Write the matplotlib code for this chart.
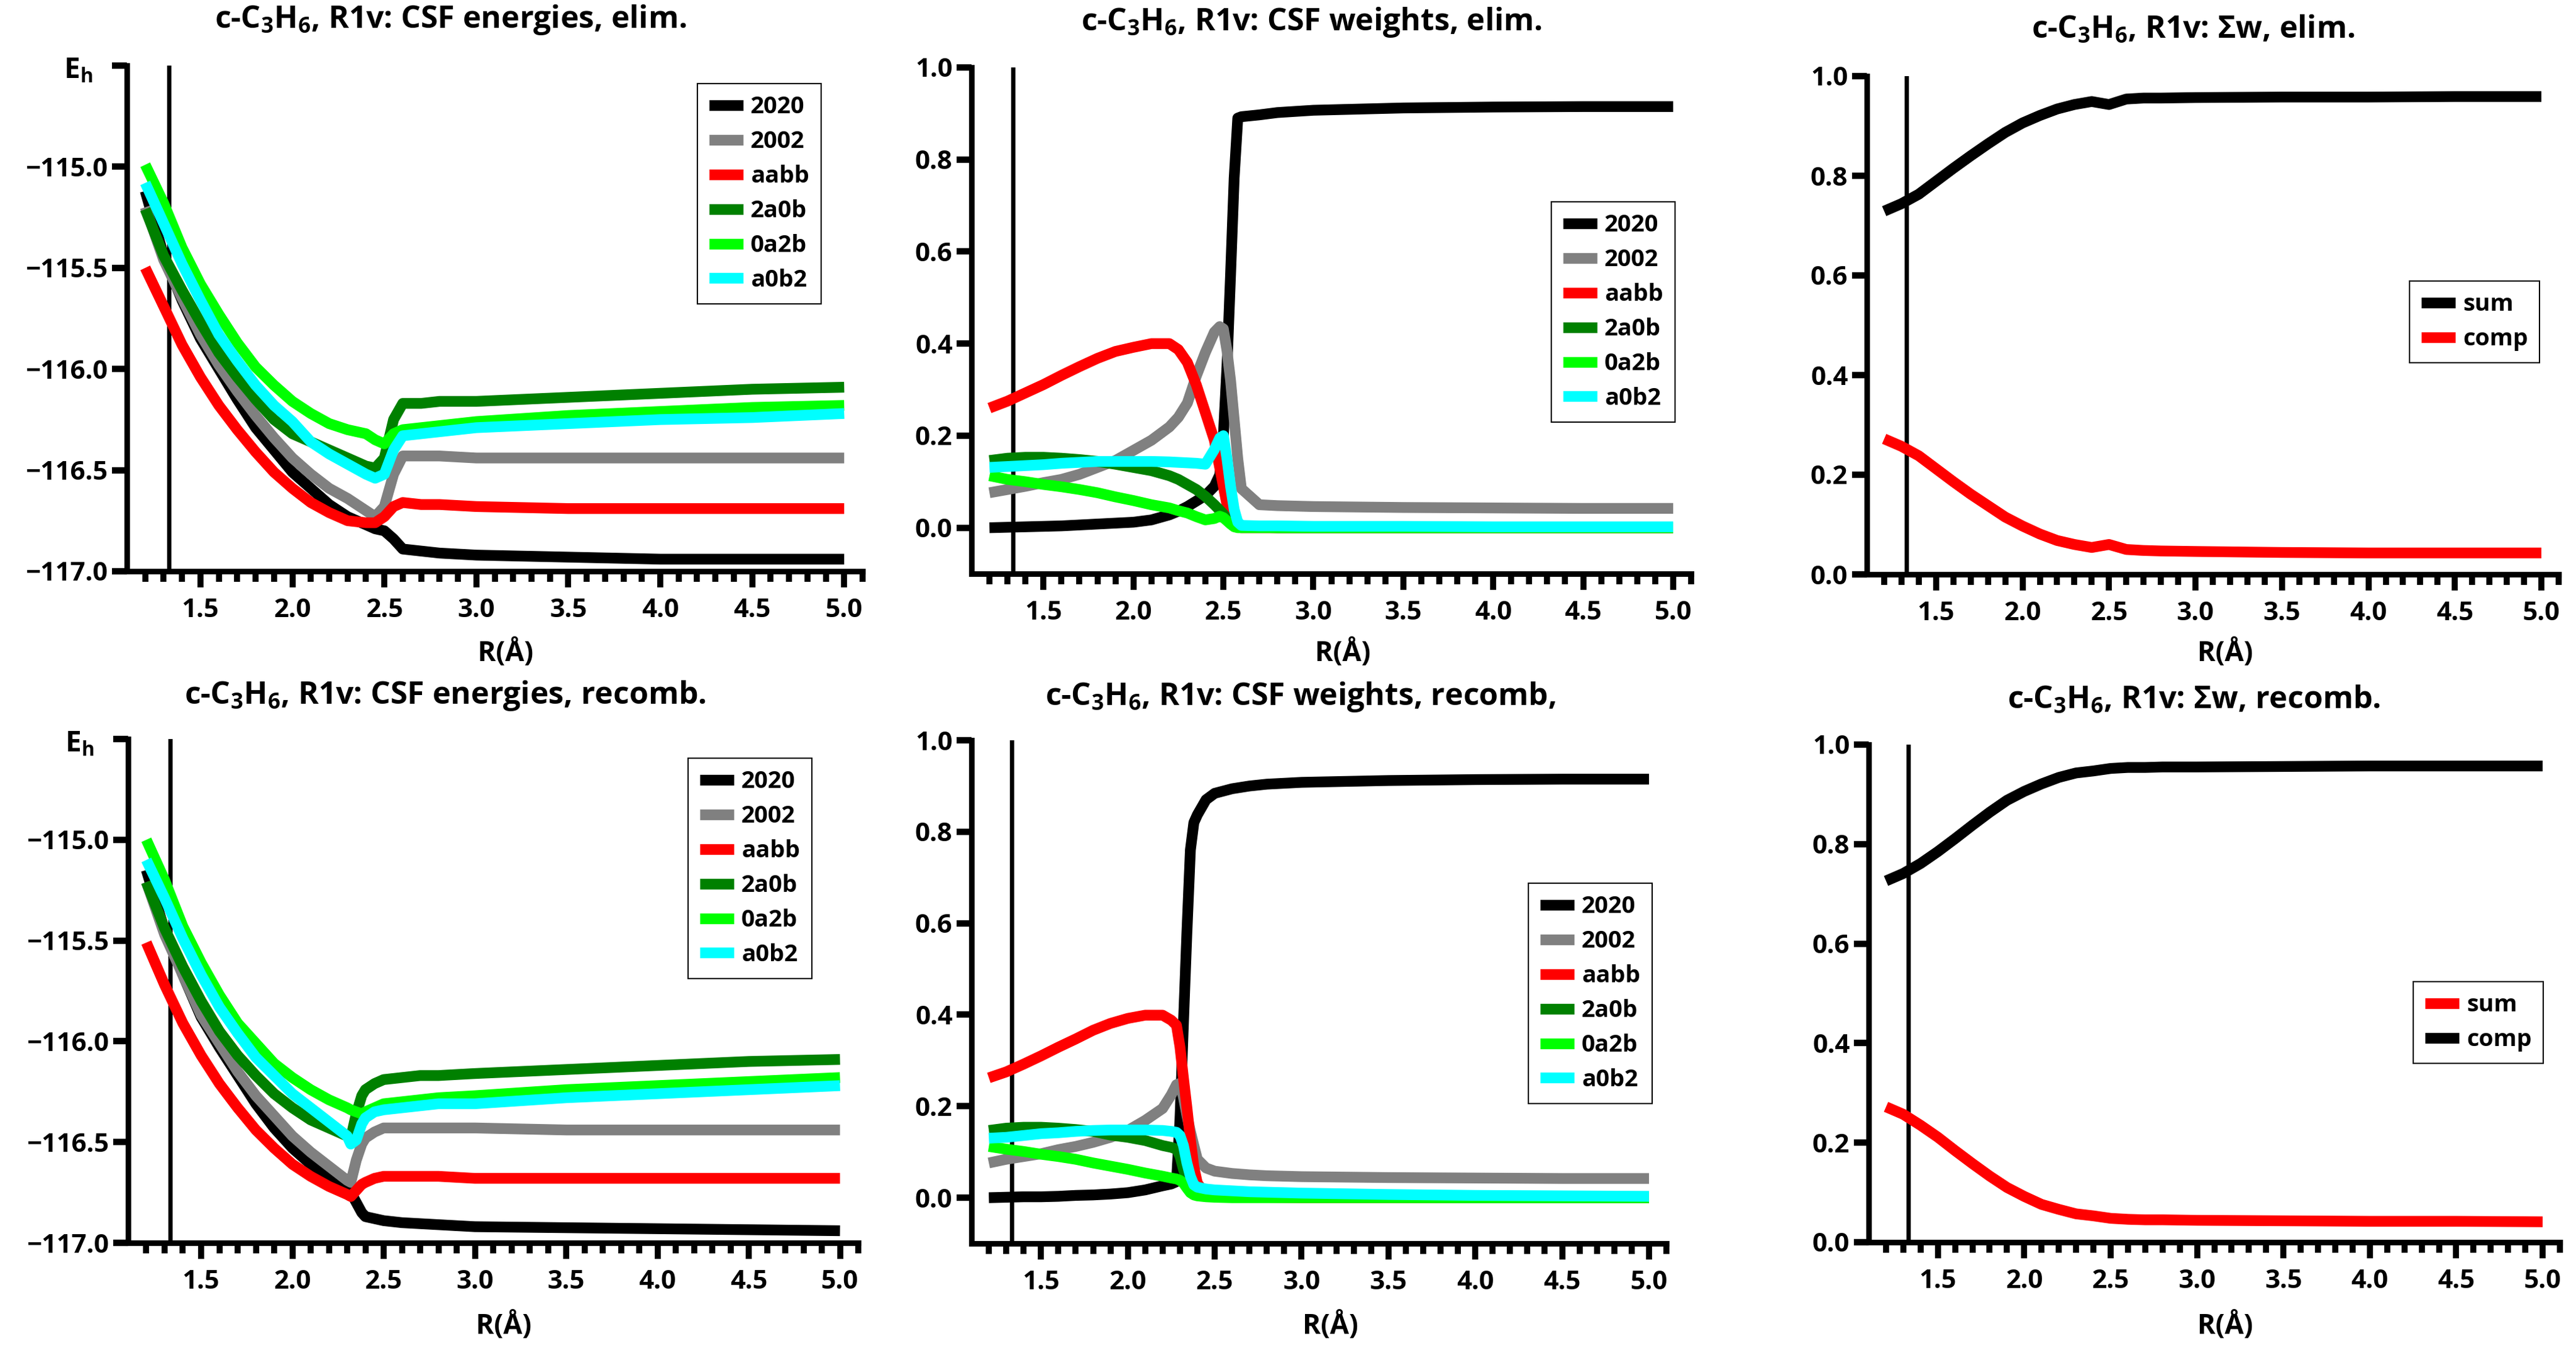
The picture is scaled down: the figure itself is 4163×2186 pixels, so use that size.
import matplotlib
matplotlib.use("Agg")
import matplotlib.pyplot as plt
from matplotlib.ticker import FixedLocator, FuncFormatter

plt.rcParams['font.family'] = ['Open Sans', 'DejaVu Sans']
plt.rcParams['font.weight'] = 'bold'
plt.rcParams['mathtext.fontset'] = 'custom'
plt.rcParams['mathtext.rm'] = 'Open Sans:bold'
plt.rcParams['mathtext.it'] = 'Open Sans:bold'
plt.rcParams['mathtext.bf'] = 'Open Sans:bold'
plt.rcParams['mathtext.default'] = 'rm'

# ---------------- data ----------------
r_ref = 1.33  # vertical reference line (Å)

series_names = ['2020', '2002', 'aabb', '2a0b', '0a2b', 'a0b2']
series_colors = ['#000000', '#808080', '#ff0000', '#008000', '#00ff00', '#00ffff']

# Panel 1: CSF energies, elimination
e_elim_x = [1.2, 1.3, 1.4, 1.5, 1.6, 1.7, 1.8, 1.9, 2.0, 2.1, 2.2, 2.3, 2.4, 2.45,
            2.5, 2.55, 2.6, 2.7, 2.8, 3.0, 3.5, 4.0, 4.5, 5.0]
e_elim_2020 = [-115.12, -115.44, -115.66, -115.85, -116.00, -116.15, -116.29, -116.40,
               -116.51, -116.59, -116.67, -116.73, -116.77, -116.79, -116.80, -116.84,
               -116.89, -116.90, -116.91, -116.92, -116.93, -116.94, -116.94, -116.94]
e_elim_2002 = [-115.20, -115.46, -115.65, -115.83, -115.98, -116.11, -116.23, -116.34,
               -116.44, -116.52, -116.59, -116.64, -116.70, -116.73, -116.68, -116.52,
               -116.43, -116.43, -116.43, -116.44, -116.44, -116.44, -116.44, -116.44]
e_elim_aabb = [-115.50, -115.69, -115.88, -116.04, -116.18, -116.30, -116.41, -116.51,
               -116.59, -116.66, -116.71, -116.75, -116.76, -116.76, -116.73, -116.68,
               -116.66, -116.67, -116.67, -116.68, -116.69, -116.69, -116.69, -116.69]
e_elim_2a0b = [-115.21, -115.44, -115.61, -115.77, -115.92, -116.04, -116.15, -116.25,
               -116.32, -116.36, -116.40, -116.44, -116.48, -116.49, -116.44, -116.25,
               -116.17, -116.17, -116.16, -116.16, -116.14, -116.12, -116.10, -116.09]
e_elim_0a2b = [-114.99, -115.18, -115.40, -115.58, -115.73, -115.87, -115.99, -116.08,
               -116.16, -116.22, -116.27, -116.30, -116.32, -116.35, -116.37, -116.32,
               -116.30, -116.29, -116.28, -116.26, -116.23, -116.21, -116.19, -116.18]
e_elim_a0b2 = [-115.08, -115.28, -115.48, -115.66, -115.83, -115.96, -116.08, -116.18,
               -116.26, -116.36, -116.42, -116.47, -116.52, -116.54, -116.52, -116.40,
               -116.33, -116.32, -116.31, -116.29, -116.27, -116.25, -116.24, -116.22]

# Panel 2: CSF weights, elimination
w_elim_x = [1.2, 1.3, 1.4, 1.5, 1.6, 1.7, 1.8, 1.9, 2.0, 2.1, 2.2, 2.25, 2.3, 2.35,
            2.4, 2.45, 2.48, 2.5, 2.52, 2.54, 2.56, 2.58, 2.6, 2.7, 2.8, 3.0, 3.5,
            4.0, 4.5, 5.0]
w_elim_2020 = [0.0, 0.001, 0.002, 0.003, 0.004, 0.006, 0.008, 0.01, 0.012, 0.017, 0.028,
               0.036, 0.046, 0.058, 0.07, 0.09, 0.115, 0.2, 0.35, 0.55, 0.76, 0.89,
               0.893, 0.897, 0.902, 0.907, 0.912, 0.914, 0.915, 0.915]
w_elim_2002 = [0.076, 0.083, 0.09, 0.098, 0.105, 0.116, 0.131, 0.146, 0.168, 0.19, 0.219,
               0.24, 0.271, 0.33, 0.381, 0.425, 0.437, 0.432, 0.385, 0.32, 0.235, 0.15,
               0.085, 0.05, 0.048, 0.046, 0.044, 0.043, 0.042, 0.042]
w_elim_aabb = [0.26, 0.275, 0.293, 0.311, 0.331, 0.35, 0.368, 0.383, 0.392, 0.40, 0.40,
               0.387, 0.359, 0.31, 0.25, 0.19, 0.13, 0.09, 0.05, 0.015, 0.003, 0.001,
               0.0, 0.0, 0.0, 0.0, 0.0, 0.0, 0.0, 0.0]
w_elim_2a0b = [0.146, 0.151, 0.153, 0.153, 0.151, 0.148, 0.144, 0.138, 0.131, 0.124, 0.113,
               0.105, 0.094, 0.083, 0.068, 0.05, 0.038, 0.03, 0.02, 0.01, 0.004, 0.002,
               0.001, 0.001, 0.0, 0.0, 0.0, 0.0, 0.0, 0.0]
w_elim_0a2b = [0.113, 0.105, 0.10, 0.094, 0.089, 0.083, 0.076, 0.067, 0.059, 0.05, 0.043,
               0.037, 0.032, 0.024, 0.017, 0.02, 0.025, 0.022, 0.015, 0.008, 0.002, 0.0,
               0.0, 0.0, 0.0, 0.0, 0.0, 0.0, 0.0, 0.0]
w_elim_a0b2 = [0.131, 0.133, 0.135, 0.137, 0.14, 0.142, 0.144, 0.144, 0.144, 0.144, 0.143,
               0.142, 0.141, 0.14, 0.138, 0.17, 0.195, 0.2, 0.15, 0.09, 0.04, 0.012,
               0.005, 0.004, 0.004, 0.003, 0.003, 0.002, 0.002, 0.002]

# Panel 3: sum of weights, elimination
s_x = [1.2, 1.3, 1.4, 1.5, 1.6, 1.7, 1.8, 1.9, 2.0, 2.1, 2.2, 2.3, 2.4, 2.5, 2.6,
       2.7, 2.8, 3.0, 3.5, 4.0, 4.5, 5.0]
s_elim_sum = [0.729, 0.744, 0.763, 0.789, 0.815, 0.840, 0.864, 0.887, 0.906, 0.921, 0.934,
              0.943, 0.949, 0.943, 0.954, 0.956, 0.956, 0.957, 0.958, 0.958, 0.959, 0.959]
s_elim_comp = [0.272, 0.257, 0.238, 0.212, 0.186, 0.161, 0.138, 0.115, 0.097, 0.081, 0.068,
               0.060, 0.054, 0.060, 0.050, 0.048, 0.047, 0.046, 0.044, 0.043, 0.043, 0.043]

# Panel 4: CSF energies, recombination
e_rec_x = [1.2, 1.3, 1.4, 1.5, 1.6, 1.7, 1.8, 1.9, 2.0, 2.1, 2.2, 2.3, 2.32, 2.35,
           2.38, 2.4, 2.45, 2.5, 2.6, 2.7, 2.8, 3.0, 3.5, 4.0, 4.5, 5.0]
e_rec_2020 = [-115.15, -115.45, -115.67, -115.88, -116.03, -116.17, -116.31, -116.43,
              -116.53, -116.61, -116.68, -116.73, -116.75, -116.80, -116.85, -116.87,
              -116.88, -116.89, -116.90, -116.905, -116.91, -116.92, -116.925, -116.93,
              -116.935, -116.94]
e_rec_2002 = [-115.21, -115.47, -115.67, -115.87, -116.01, -116.15, -116.27, -116.37,
              -116.47, -116.55, -116.62, -116.69, -116.70, -116.59, -116.51, -116.48,
              -116.45, -116.43, -116.43, -116.43, -116.43, -116.43, -116.44, -116.44,
              -116.44, -116.44]
e_rec_aabb = [-115.51, -115.72, -115.91, -116.07, -116.21, -116.33, -116.44, -116.53,
              -116.61, -116.67, -116.72, -116.76, -116.77, -116.74, -116.71, -116.70,
              -116.68, -116.67, -116.67, -116.67, -116.67, -116.68, -116.68, -116.68,
              -116.68, -116.68]
e_rec_2a0b = [-115.21, -115.44, -115.63, -115.80, -115.95, -116.07, -116.17, -116.26,
              -116.33, -116.39, -116.43, -116.47, -116.48, -116.36, -116.27, -116.24,
              -116.21, -116.19, -116.18, -116.17, -116.17, -116.16, -116.14, -116.12,
              -116.10, -116.09]
e_rec_0a2b = [-115.00, -115.20, -115.43, -115.61, -115.77, -115.91, -116.01, -116.11,
              -116.18, -116.24, -116.29, -116.33, -116.34, -116.35, -116.36, -116.35,
              -116.33, -116.31, -116.30, -116.29, -116.28, -116.27, -116.24, -116.22,
              -116.20, -116.18]
e_rec_a0b2 = [-115.10, -115.29, -115.49, -115.67, -115.83, -115.96, -116.08, -116.17,
              -116.26, -116.33, -116.40, -116.47, -116.51, -116.49, -116.41, -116.38,
              -116.35, -116.34, -116.33, -116.32, -116.31, -116.31, -116.28, -116.26,
              -116.24, -116.22]

# Panel 5: CSF weights, recombination
w_rec_x = [1.2, 1.3, 1.4, 1.5, 1.6, 1.7, 1.8, 1.9, 2.0, 2.1, 2.2, 2.25, 2.28, 2.3,
           2.32, 2.34, 2.36, 2.38, 2.4, 2.45, 2.5, 2.6, 2.7, 2.8, 3.0, 3.5, 4.0, 4.5, 5.0]
w_rec_2020 = [0.0, 0.001, 0.002, 0.002, 0.003, 0.005, 0.006, 0.008, 0.011, 0.017, 0.026,
              0.03, 0.035, 0.17, 0.38, 0.58, 0.76, 0.82, 0.837, 0.87, 0.884, 0.894,
              0.90, 0.904, 0.908, 0.912, 0.914, 0.915, 0.915]
w_rec_2002 = [0.076, 0.084, 0.09, 0.096, 0.105, 0.112, 0.121, 0.132, 0.147, 0.169, 0.195,
              0.225, 0.247, 0.25, 0.22, 0.18, 0.145, 0.114, 0.084, 0.065, 0.058, 0.053,
              0.05, 0.048, 0.046, 0.044, 0.043, 0.042, 0.042]
w_rec_aabb = [0.262, 0.275, 0.292, 0.31, 0.329, 0.347, 0.366, 0.381, 0.392, 0.399, 0.399,
              0.388, 0.377, 0.33, 0.262, 0.197, 0.127, 0.067, 0.032, 0.006, 0.003, 0.002,
              0.001, 0.001, 0.0, 0.0, 0.0, 0.0, 0.0]
w_rec_2a0b = [0.147, 0.152, 0.154, 0.154, 0.152, 0.149, 0.145, 0.137, 0.132, 0.125, 0.114,
              0.11, 0.106, 0.091, 0.062, 0.039, 0.021, 0.014, 0.01, 0.006, 0.004, 0.003,
              0.002, 0.002, 0.001, 0.001, 0.0, 0.0, 0.0]
w_rec_0a2b = [0.112, 0.106, 0.101, 0.095, 0.09, 0.084, 0.076, 0.069, 0.062, 0.054, 0.047,
              0.043, 0.041, 0.038, 0.032, 0.021, 0.011, 0.006, 0.004, 0.002, 0.001, 0.0,
              0.0, 0.0, 0.0, 0.0, 0.0, 0.0, 0.0]
w_rec_a0b2 = [0.13, 0.132, 0.136, 0.14, 0.142, 0.145, 0.147, 0.148, 0.148, 0.148, 0.147,
              0.145, 0.143, 0.136, 0.114, 0.076, 0.047, 0.028, 0.023, 0.019, 0.017, 0.015,
              0.013, 0.012, 0.01, 0.007, 0.005, 0.004, 0.003]

# Panel 6: sum of weights, recombination (legend labels as in source)
s_rec_sum = [0.272, 0.257, 0.235, 0.211, 0.184, 0.158, 0.133, 0.110, 0.092, 0.076, 0.066,
             0.057, 0.053, 0.048, 0.046, 0.045, 0.045, 0.044, 0.043, 0.042, 0.042, 0.041]
s_rec_comp = [0.726, 0.741, 0.761, 0.785, 0.811, 0.838, 0.864, 0.888, 0.906, 0.921, 0.934,
              0.943, 0.947, 0.952, 0.954, 0.954, 0.955, 0.955, 0.956, 0.957, 0.957, 0.957]

x_major = [1.5, 2.0, 2.5, 3.0, 3.5, 4.0, 4.5, 5.0]
e_ticks = [-117.0, -116.5, -116.0, -115.5, -115.0, -114.5]
w_ticks = [0.0, 0.2, 0.4, 0.6, 0.8, 1.0]

titles = [r'c-C$_3$H$_6$, R1v: CSF energies, elim.',
          r'c-C$_3$H$_6$, R1v: CSF weights, elim.',
          r'c-C$_3$H$_6$, R1v: $\Sigma$w, elim.',
          r'c-C$_3$H$_6$, R1v: CSF energies, recomb.',
          r'c-C$_3$H$_6$, R1v: CSF weights, recomb,',
          r'c-C$_3$H$_6$, R1v: $\Sigma$w, recomb.']

# ---------------- figure ----------------
W, H = 4163, 2186
fig = plt.figure(figsize=(W / 100, H / 100), dpi=100)
fig.patch.set_facecolor('white')

LW = 12.5
FS = 30.5
TITLE_FS = 36
XLAB_FS = 32
LEG_FS = 27.5


def add_axes_px(l, r, t, b):
    return fig.add_axes([l / W, 1 - b / H, (r - l) / W, (b - t) / H])


def minus(s):
    return s.replace('-', '\u2212')


def style(ax, ylim, yticks, yfmt):
    ax.set_xlim(1.1, 5.1)
    ax.set_ylim(*ylim)
    for s in ['top', 'right']:
        ax.spines[s].set_visible(False)
    for s in ['left', 'bottom']:
        ax.spines[s].set_linewidth(6.5)
        ax.spines[s].set_capstyle('projecting')
    minor = [round(1.1 + 0.1 * i, 1) for i in range(1, 41)]
    minor = [m for m in minor if m not in x_major]
    ax.xaxis.set_major_locator(FixedLocator(x_major))
    ax.xaxis.set_minor_locator(FixedLocator(minor))
    ax.xaxis.set_major_formatter(FuncFormatter(lambda v, p: f"{v:.1f}"))
    ax.yaxis.set_major_locator(FixedLocator(yticks))
    ax.yaxis.set_major_formatter(FuncFormatter(yfmt))
    ax.tick_params(axis='x', which='major', length=19, width=7, pad=12,
                   labelsize=FS, direction='out')
    ax.tick_params(axis='x', which='minor', length=12, width=7, direction='out')
    ax.tick_params(axis='y', which='major', length=17, width=7.5, pad=5,
                   labelsize=FS, direction='out')
    for lab in ax.get_xticklabels() + ax.get_yticklabels():
        lab.set_fontweight('bold')
    ax.axvline(r_ref, color='black', lw=5, zorder=1.5)


def efmt(v, p):
    if v > -114.75:
        return ''
    return minus(f"{v:.1f}")


def wfmt(v, p):
    return f"{v:.1f}"


def place_text(ax, box, title, tbase, tcx, xl_base, xl_cx, eh=None):
    l, r, t, b = box
    ax.set_title(title, fontsize=TITLE_FS, fontweight='bold',
                 x=(tcx - l) / (r - l), y=(b - tbase) / (b - t), va='baseline')
    ax.set_xlabel('R(Å)', fontsize=XLAB_FS, fontweight='bold')
    ax.xaxis.set_label_coords((xl_cx - l) / (r - l), (b - xl_base) / (b - t))
    ax.xaxis.label.set_va('baseline')
    if eh is not None:
        ax.set_ylabel('E$_h$', fontsize=33, fontweight='bold', rotation=0)
        ax.yaxis.set_label_coords((eh[0] - l) / (r - l), (b - eh[1]) / (b - t))
        ax.yaxis.label.set_ha('right')
        ax.yaxis.label.set_va('baseline')


def legend(ax, lx, ly):
    leg = ax.legend(loc='upper left', bbox_to_anchor=(lx / W, 1 - ly / H),
                    bbox_transform=fig.transFigure, borderaxespad=0,
                    prop={'weight': 'bold', 'size': LEG_FS},
                    handlelength=1.45, handletextpad=0.3, borderpad=0.5,
                    labelspacing=0.47, fancybox=False, framealpha=1,
                    edgecolor='black')
    leg.get_frame().set_linewidth(1.5)
    return leg


def plot_six(ax, x, ys):
    for y, name, c in zip(ys, series_names, series_colors):
        ax.plot(x, y, color=c, lw=LW, label=name, solid_capstyle='butt',
                solid_joinstyle='round', zorder=2)


# Panel 1
b1 = (205, 1394, 106, 923)
ax1 = add_axes_px(*b1)
plot_six(ax1, e_elim_x, [e_elim_2020, e_elim_2002, e_elim_aabb,
                         e_elim_2a0b, e_elim_0a2b, e_elim_a0b2])
style(ax1, (-117.0, -114.5), e_ticks, efmt)
place_text(ax1, b1, titles[0], 53, 728, 1068, 817, eh=(150, 126))
legend(ax1, 1127, 135)

# Panel 2
b2 = (1570, 2733, 109, 927)
ax2 = add_axes_px(*b2)
plot_six(ax2, w_elim_x, [w_elim_2020, w_elim_2002, w_elim_aabb,
                         w_elim_2a0b, w_elim_0a2b, w_elim_a0b2])
style(ax2, (-0.1, 1.0), w_ticks, wfmt)
place_text(ax2, b2, titles[1], 57, 2120, 1068, 2170)
legend(ax2, 2507, 326)

# Panel 3
b3 = (3017, 4135, 123, 928)
ax3 = add_axes_px(*b3)
ax3.plot(s_x, s_elim_sum, color='#000000', lw=LW, label='sum', solid_capstyle='butt', zorder=2)
ax3.plot(s_x, s_elim_comp, color='#ff0000', lw=LW, label='comp', solid_capstyle='butt', zorder=2)
style(ax3, (0.0, 1.0), w_ticks, wfmt)
place_text(ax3, b3, titles[2], 70, 3544, 1068, 3596)
legend(ax3, 3894, 454)

# Panel 4
b4 = (207, 1387, 1194, 2008)
ax4 = add_axes_px(*b4)
plot_six(ax4, e_rec_x, [e_rec_2020, e_rec_2002, e_rec_aabb,
                        e_rec_2a0b, e_rec_0a2b, e_rec_a0b2])
style(ax4, (-117.0, -114.5), e_ticks, efmt)
place_text(ax4, b4, titles[3], 1145, 720, 2155, 814, eh=(152, 1214))
legend(ax4, 1112, 1225)

# Panel 5
b5 = (1570, 2693, 1196, 2009)
ax5 = add_axes_px(*b5)
plot_six(ax5, w_rec_x, [w_rec_2020, w_rec_2002, w_rec_aabb,
                        w_rec_2a0b, w_rec_0a2b, w_rec_a0b2])
style(ax5, (-0.1, 1.0), w_ticks, wfmt)
place_text(ax5, b5, titles[4], 1147, 2102, 2155, 2150)
legend(ax5, 2470, 1427)

# Panel 6
b6 = (3020, 4137, 1203, 2007)
ax6 = add_axes_px(*b6)
ax6.plot(s_x, s_rec_sum, color='#ff0000', lw=LW, label='sum', solid_capstyle='butt', zorder=2)
ax6.plot(s_x, s_rec_comp, color='#000000', lw=LW, label='comp', solid_capstyle='butt', zorder=2)
style(ax6, (0.0, 1.0), w_ticks, wfmt)
place_text(ax6, b6, titles[5], 1153, 3546, 2155, 3596)
legend(ax6, 3900, 1586)

fig.savefig('out.png', dpi=100, facecolor='white')
